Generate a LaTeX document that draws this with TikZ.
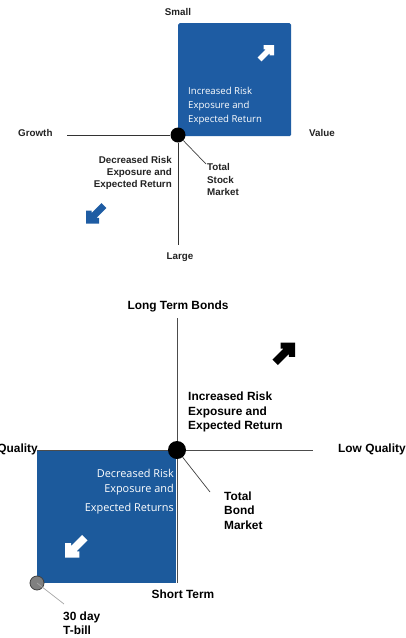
\documentclass[tikz,border=0pt]{standalone}
\usepackage{fontspec}
\setmainfont{Liberation Sans}
\newfontfamily\segfont{Open Sans}
\definecolor{qblue}{RGB}{30,92,163}
\definecolor{qblueb}{RGB}{28,90,156}
\definecolor{lbl}{RGB}{34,34,34}
\tikzset{
  lab/.style={inner sep=0pt, font=\bfseries\fontsize{9.8}{11}\selectfont, text=lbl},
  labb/.style={inner sep=0pt, font=\bfseries\fontsize{11.9}{13}\selectfont, text=black},
  wtxt/.style={inner sep=0pt, font=\segfont\fontsize{9.6}{11}\selectfont, text=white},
  wtxtb/.style={inner sep=0pt, font=\segfont\fontsize{10.9}{12}\selectfont, text=white},
  axis/.style={draw=black!80, line width=0.8pt},
  lead/.style={draw=black!75, line width=0.7pt},
  blockarrow/.pic={\fill (0.5,-0.5) -- (-0.15,-0.5) -- (-0.15,-0.22) -- (-0.027,-0.22) -- (-0.524,0.276) -- (-0.276,0.524) -- (0.22,0.027) -- (0.22,0.15) -- (0.5,0.15) -- cycle;}
}
\begin{document}
\begin{tikzpicture}[x=1pt,y=-1pt]
\useasboundingbox (0,0) rectangle (406,638);
% ---------- top diagram ----------
\node[draw=none, fill=qblue, rounded corners=1.5pt, minimum width=113pt, minimum height=113pt, anchor=north west, inner sep=0pt] (tbox) at (178,23) {};
\coordinate (tl) at (67,135);
\coordinate (tb) at (178,245);
\node[circle, fill=black, minimum size=15pt, inner sep=0pt] (tdot) at (178,135) {};
\draw[axis] (tl) -- (tdot);
\draw[axis] (tdot) -- (tb);
\node[lab, anchor=base] (small) at (178,15.5) {Small};
\node[lab, anchor=base] (large) at (180,259.5) {Large};
\node[lab, anchor=base west] (growth) at (18,136.5) {Growth};
\node[lab, anchor=base west] (value) at (309,136.5) {Value};
\node[wtxt, anchor=base west] (ti1) at (188,94.5) {Increased Risk};
\node[wtxt, anchor=base west] (ti2) at (188,108.5) {Exposure and};
\node[wtxt, anchor=base west] (ti3) at (188,122.5) {Expected Return};
\node[lab, anchor=base east] (td1) at (172,163.5) {Decreased Risk};
\node[lab, anchor=base east] (td2) at (172,175.5) {Exposure and};
\node[lab, anchor=base east] (td3) at (172,187.5) {Expected Return};
\coordinate (tsm) at (206,164);
\draw[lead] (tdot) -- (tsm);
\node[lab, anchor=base west] (ts1) at (207,170.5) {Total};
\node[lab, anchor=base west] (ts2) at (207,183) {Stock};
\node[lab, anchor=base west] (ts3) at (207,195.5) {Market};
\pic[white, scale=16] at (266,53) {blockarrow};
\pic[qblue, scale=20, rotate=180] at (96,213.5) {blockarrow};
% ---------- bottom diagram ----------
\node[fill=qblueb, minimum width=139pt, minimum height=133pt, anchor=north west, inner sep=0pt] (bbox) at (37,450) {};
\coordinate (bt) at (177,318);
\coordinate (bbot) at (177,583);
\coordinate (bl) at (37,450);
\coordinate (br) at (313,450);
\draw[axis, draw=black!70] (bt) -- (bbot);
\draw[axis, draw=black!70] (bl) -- (br);
\node[circle, fill=black, minimum size=18pt, inner sep=0pt] (bdot) at (177,450) {};
\node[labb, anchor=base] (ltb) at (178,309.5) {Long Term Bonds};
\node[labb, anchor=base east] (hq) at (38,452.5) {Quality};
\node[labb, anchor=base west] (lq) at (338,452.5) {Low Quality};
\node[labb, anchor=base] (st) at (183,598.5) {Short Term};
\node[labb, anchor=base west] (bi1) at (188,400.5) {Increased Risk};
\node[labb, anchor=base west] (bi2) at (188,415) {Exposure and};
\node[labb, anchor=base west] (bi3) at (188,429.5) {Expected Return};
\node[wtxtb, anchor=base east] (bd1) at (174,477.5) {Decreased Risk};
\node[wtxtb, anchor=base east] (bd2) at (174,492.5) {Exposure and};
\node[wtxtb, anchor=base east] (bd3) at (174,511.5) {Expected Returns};
\coordinate (tbm) at (210,492);
\draw[lead] (bdot) -- (tbm);
\node[labb, anchor=base west] (bm1) at (224,500.5) {Total};
\node[labb, anchor=base west] (bm2) at (224,514.5) {Bond};
\node[labb, anchor=base west] (bm3) at (224,529) {Market};
\node[circle, fill=black!50, draw=black!75, line width=0.8pt, minimum size=14pt, inner sep=0pt] (gdot) at (37,583) {};
\coordinate (tbl) at (64,604);
\draw[draw=black!35, line width=0.7pt] (gdot.center) -- (tbl);
\node[labb, anchor=base west] (tb1) at (63,620.5) {30 day};
\node[labb, anchor=base west] (tb2) at (63,634.5) {T-bill};
\pic[black, scale=22] at (284,353.5) {blockarrow};
\pic[white, scale=22, rotate=180] at (76,546.5) {blockarrow};
\end{tikzpicture}
\end{document}
